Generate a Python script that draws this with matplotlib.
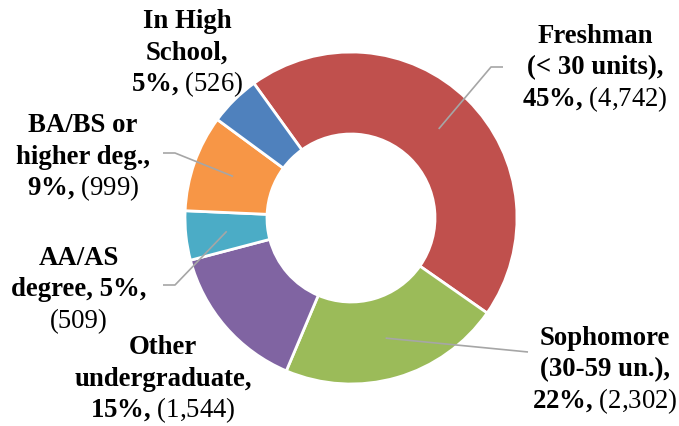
import numpy as np
import matplotlib
matplotlib.use("Agg")
import matplotlib.pyplot as plt

# ---- data ----
categories = ["Freshman (< 30 units)", "Sophomore (30-59 un.)", "Other undergraduate",
              "AA/AS degree", "BA/BS or higher deg.", "In High School"]
counts = [4742, 2302, 1544, 509, 999, 526]
colors = ["#C0504D", "#9BBB59", "#8064A2", "#4BACC6", "#F79646", "#4F81BD"]
label_lines = [
    ["Freshman", "(< 30 units),", "{pct}, {cnt}"],
    ["Sophomore", "(30-59 un.),", "{pct}, {cnt}"],
    ["Other", "undergraduate,", "{pct}, {cnt}"],
    ["AA/AS", "degree, {pct},", "{cnt}"],
    ["BA/BS or", "higher deg.,", "{pct}, {cnt}"],
    ["In High", "School,", "{pct}, {cnt}"],
]

# ---- layout (pixel space, image y measured from top) ----
W, H = 679, 426
cx, cy = 351, 218
r_out, r_in = 166, 84
start_angle = 125.8
label_pos = [  # (x center, first baseline y)
    (595, 43), (605, 345), (163, 354), (79, 265), (83, 132), (187, 28)]
line_step = 31.5
leaders = {  # elbow points (image coords), from outer end toward the slice
    0: [(503, 67), (491, 67)],
    1: [(528, 352), (518, 351)],
    3: [(163, 285), (175, 285)],
    4: [(163, 153), (175, 153)],
}

plt.rcParams["mathtext.fontset"] = "custom"
plt.rcParams["mathtext.rm"] = "Liberation Serif"
plt.rcParams["mathtext.bf"] = "Liberation Serif:bold"

fig = plt.figure(figsize=(W / 100, H / 100), dpi=100)
ax = fig.add_axes([0, 0, 1, 1])
ax.set_xlim(0, W)
ax.set_ylim(0, H)
ax.axis("off")

def Y(y):
    return H - y

ax.pie(counts, colors=colors, startangle=start_angle, counterclock=False,
       radius=r_out, center=(cx, Y(cy)),
       wedgeprops=dict(width=r_out - r_in, edgecolor="white", linewidth=2.0))
ax.set_xlim(0, W)
ax.set_ylim(0, H)
ax.set_aspect("equal")

total = sum(counts)
fs = 19.3
cum = 0
for i, c in enumerate(counts):
    mid = np.deg2rad(start_angle - 360 * (cum + c / 2) / total)
    cum += c
    pct = f"{round(100 * c / total)}%"
    cnt = f"({c:,})"
    x0, y0 = label_pos[i]
    for k, line in enumerate(label_lines[i]):
        yb = y0 + k * line_step
        if line == "{cnt}":
            ax.text(x0, Y(yb), cnt, ha="center", va="baseline", fontsize=fs,
                    family="Liberation Serif", fontweight="normal")
            continue
        s = line.replace("{pct}", pct)
        if "{cnt}" in s:
            s = s.replace("{cnt}", r"$\mathrm{" + cnt.replace(",", "{,}") + "}$")
        ax.text(x0, Y(yb), s, ha="center", va="baseline", fontsize=fs,
                family="Liberation Serif", fontweight="bold")
    if i in leaders:
        rm = (r_out + r_in) / 2
        ax_ = cx + rm * np.cos(mid)
        ay_ = Y(cy) + rm * np.sin(mid)
        pts = [(px, Y(py)) for px, py in leaders[i]] + [(ax_, ay_)]
        xs, ys = zip(*pts)
        ax.plot(xs, ys, color="#A6A6A6", lw=1.2, solid_capstyle="butt", zorder=5)

fig.savefig("out.png", dpi=100)
